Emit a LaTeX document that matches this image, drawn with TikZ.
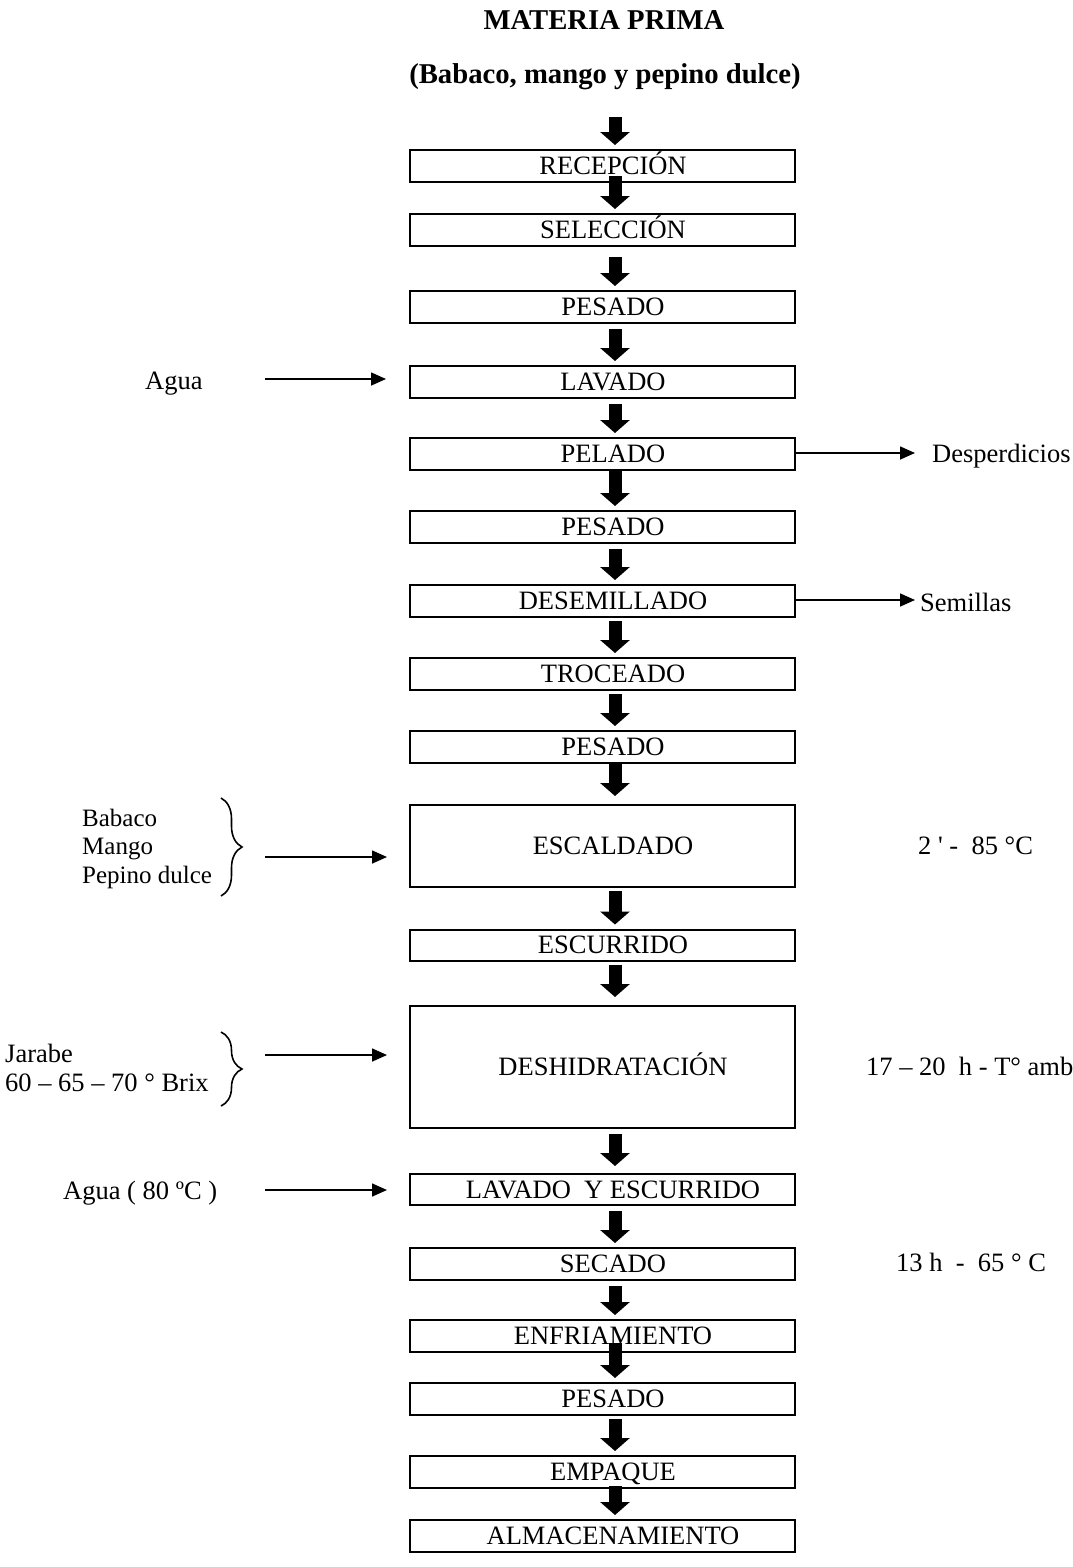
\documentclass[tikz,border=0pt]{standalone}
\usepackage{fontspec}
\setmainfont{Liberation Serif}
\usetikzlibrary{arrows.meta,decorations.pathreplacing}
\newcommand\fs{\fontsize{26.5}{28.5}\selectfont}
\newcommand\sfs{\fontsize{25}{28.5}\selectfont}
\newcommand\tfs{\fontsize{28.7}{32}\selectfont\bfseries}
\newcommand\blkarrow[4]{\draw[blk] ([xshift=12.5pt,yshift=#3pt]#1.south) -- ([xshift=12.5pt,yshift=#4pt]#2.north);}
\begin{document}
\begin{tikzpicture}[x=1pt,y=-1pt,
  box/.style={draw, line width=2pt, minimum width=385pt, minimum height=32pt, inner sep=0pt},
  lbl/.style={font=\fs, inner sep=0pt, text height=17.5pt, text depth=0pt},
  side/.style={font=\fs, inner sep=0pt, text height=17.5pt, text depth=0pt, anchor=west},
  ttl/.style={font=\tfs, inner sep=0pt, text height=19pt, text depth=0pt},
  blk/.style={line width=13pt, -{Triangle[width=29pt,length=13pt]}},
  thinarr/.style={line width=1.6pt, -{Triangle[width=13pt,length=15pt]}},
  brc/.style={line width=1.6pt, decorate, decoration={brace, amplitude=21pt, aspect=0.5}}]
\useasboundingbox (0,0) rectangle (1072,1567);

% titles
\node[ttl] (t1) at (604,20) {MATERIA PRIMA};
\node[ttl] (t2) at (605,74) {(Babaco, mango y pepino dulce)};

% process boxes
\node[box, label={[lbl,xshift=10.5pt]center:RECEPCIÓN}] (rec) at (602.5,166) {};
\node[box, label={[lbl,xshift=10.5pt]center:SELECCIÓN}] (sel) at (602.5,230) {};
\node[box, label={[lbl,xshift=10.5pt]center:PESADO}] (pes1) at (602.5,307) {};
\node[box, label={[lbl,xshift=10.5pt]center:LAVADO}] (lav) at (602.5,382) {};
\node[box, label={[lbl,xshift=10.5pt]center:PELADO}] (pel) at (602.5,454) {};
\node[box, label={[lbl,xshift=10.5pt]center:PESADO}] (pes2) at (602.5,527) {};
\node[box, label={[lbl,xshift=10.5pt]center:DESEMILLADO}] (des) at (602.5,601) {};
\node[box, label={[lbl,xshift=10.5pt]center:TROCEADO}] (tro) at (602.5,674) {};
\node[box, label={[lbl,xshift=10.5pt]center:PESADO}] (pes3) at (602.5,747) {};
\node[box, minimum height=82pt, label={[lbl,xshift=10.5pt]center:ESCALDADO}] (esc) at (602.5,846) {};
\node[box, minimum height=31pt, label={[lbl,xshift=10.5pt]center:ESCURRIDO}] (escu) at (602.5,945) {};
\node[box, minimum height=122pt, label={[lbl,xshift=10.5pt]center:DESHIDRATACIÓN}] (desh) at (602.5,1067) {};
\node[box, minimum height=31pt, label={[lbl,xshift=10.5pt]center:LAVADO\ \ Y ESCURRIDO}] (lye) at (602.5,1189.5) {};
\node[box, label={[lbl,xshift=10.5pt]center:SECADO}] (sec) at (602.5,1264) {};
\node[box, label={[lbl,xshift=10.5pt]center:ENFRIAMIENTO}] (enf) at (602.5,1336) {};
\node[box, label={[lbl,xshift=10.5pt]center:PESADO}] (pes4) at (602.5,1399) {};
\node[box, label={[lbl,xshift=10.5pt]center:EMPAQUE}] (emp) at (602.5,1472) {};
\node[box, label={[lbl,xshift=10.5pt]center:ALMACENAMIENTO}] (alm) at (602.5,1536) {};

% block arrows
\coordinate (a0) at (615,117);
\draw[blk] (a0) -- ([xshift=12.5pt,yshift=4pt]rec.north);
\blkarrow{rec}{sel}{7}{4}
\blkarrow{sel}{pes1}{-10}{4}
\blkarrow{pes1}{lav}{-5}{4}
\blkarrow{lav}{pel}{-5}{4}
\blkarrow{pel}{pes2}{0}{4}
\blkarrow{pes2}{des}{-5}{4}
\blkarrow{des}{tro}{-3}{4}
\blkarrow{tro}{pes3}{-3}{4}
\blkarrow{pes3}{esc}{0}{8}
\blkarrow{esc}{escu}{-3}{4}
\blkarrow{escu}{desh}{-3}{8}
\blkarrow{desh}{lye}{-5}{7}
\blkarrow{lye}{sec}{-5}{4}
\blkarrow{sec}{enf}{-5}{4}
\blkarrow{enf}{pes4}{10}{4}
\blkarrow{pes4}{emp}{-3}{4}
\blkarrow{emp}{alm}{3}{4}

% side texts
\node[side] (agua) at (145,381) {Agua};
\node[side] (desp) at (932,454) {Desperdicios};
\node[side] (sem) at (920,603) {Semillas};
\node[side, font=\sfs] (bab) at (82,818) {Babaco};
\node[side, font=\sfs] (man) at (82,846) {Mango};
\node[side, font=\sfs] (pep) at (82,875) {Pepino dulce};
\node[side] (c1) at (918,846) {2 \textquotesingle\ -\ \ 85 °C};
\node[side] (jar) at (5,1054) {Jarabe};
\node[side] (brix) at (5,1083) {60 – 65 – 70 ° Brix};
\node[side] (c2) at (866,1067) {17 – 20\ \ h - T° amb};
\node[side] (agua2) at (63,1191) {Agua ( 80 ºC )};
\node[side] (c3) at (896,1263) {13 h\ \ -\ \ 65 ° C};

% braces
\coordinate (b1t) at (221,798);
\coordinate (b1b) at (221,896);
\draw[brc] (b1t) -- (b1b);
\coordinate (b2t) at (221,1032);
\coordinate (b2b) at (221,1106);
\draw[brc] (b2t) -- (b2b);

% thin arrows
\coordinate (w1) at (265,379);
\draw[thinarr] (w1) -- ([xshift=-23pt]lav.west |- w1);
\draw[thinarr] ([yshift=1pt]pel.east) -- ([xshift=-17pt,yshift=1pt]desp.west |- pel.east);
\draw[thinarr] ([yshift=1pt]des.east) -- ([xshift=-5pt,yshift=1pt]sem.west |- des.east);
\coordinate (g1) at (265,857);
\draw[thinarr] (g1) -- ([xshift=-22pt]esc.west |- g1);
\coordinate (g2) at (265,1055);
\draw[thinarr] (g2) -- ([xshift=-22pt]desh.west |- g2);
\coordinate (w2) at (265,1190);
\draw[thinarr] (w2) -- ([xshift=-22pt]lye.west |- w2);
\end{tikzpicture}
\end{document}
